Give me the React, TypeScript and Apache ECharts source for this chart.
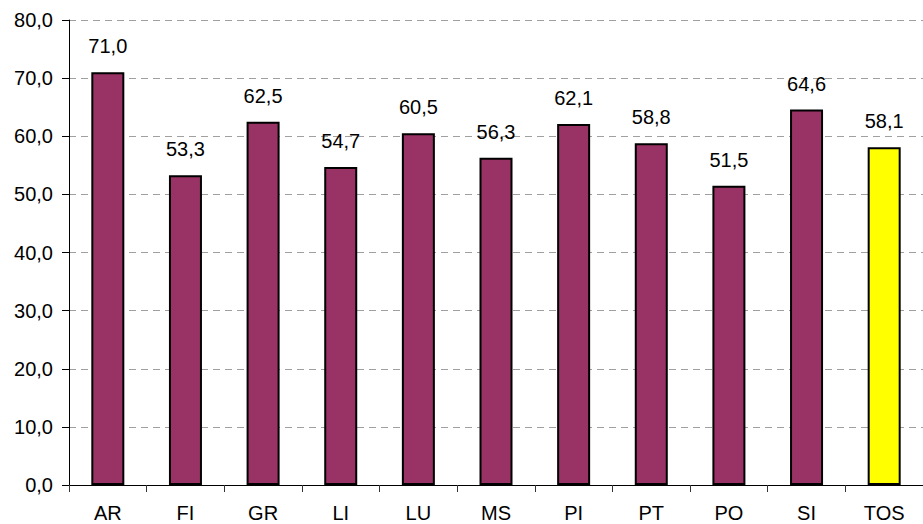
import React, { useEffect, useRef } from "react";
import * as echarts from "echarts";

const categories = ["AR", "FI", "GR", "LI", "LU", "MS", "PI", "PT", "PO", "SI", "TOS"];
const values = [71.0, 53.3, 62.5, 54.7, 60.5, 56.3, 62.1, 58.8, 51.5, 64.6, 58.1];
const highlight = "TOS";

const fmt = (v: number) => v.toFixed(1).replace(".", ",");
const FONT = "Liberation Sans, Arial";

export default function App() {
  const ref = useRef<HTMLDivElement>(null);
  useEffect(() => {
    document.body.style.margin = "0";
    const chart = echarts.init(ref.current!, null, { renderer: "svg" });
    chart.setOption({
      animation: false,
      backgroundColor: "#ffffff",
      grid: { left: 69, right: 0, top: 20, bottom: 39, containLabel: false },
      xAxis: {
        type: "category",
        data: categories,
        axisLine: { lineStyle: { color: "#000", width: 1 } },
        axisTick: { show: true, length: 7, lineStyle: { color: "#333" } },
        axisLabel: { color: "#000", fontSize: 20, fontFamily: FONT, margin: 18 },
      },
      yAxis: {
        type: "value",
        min: 0,
        max: 80,
        interval: 10,
        axisLine: { show: true, lineStyle: { color: "#000", width: 1 } },
        axisTick: { show: true, length: 7, lineStyle: { color: "#000" } },
        axisLabel: {
          color: "#000",
          fontSize: 20,
          fontFamily: FONT,
          margin: 16,
          formatter: (v: number) => fmt(v),
        },
        splitLine: { show: true, lineStyle: { color: "#a0a0a0", type: [7, 5], width: 1 } },
      },
      series: [
        {
          type: "bar",
          barWidth: 33,
          data: values.map((v, i) => ({
            value: v,
            itemStyle: {
              color: categories[i] === highlight ? "#ffff00" : "#993366",
              borderColor: "#000",
              borderWidth: 2,
            },
          })),
          label: {
            show: true,
            position: "top",
            distance: 16,
            color: "#000",
            fontSize: 20,
            fontFamily: FONT,
            formatter: (p: any) => fmt(p.value),
          },
        },
      ],
    });
    return () => chart.dispose();
  }, []);
  return <div ref={ref} style={{ width: 923, height: 524 }} />;
}
